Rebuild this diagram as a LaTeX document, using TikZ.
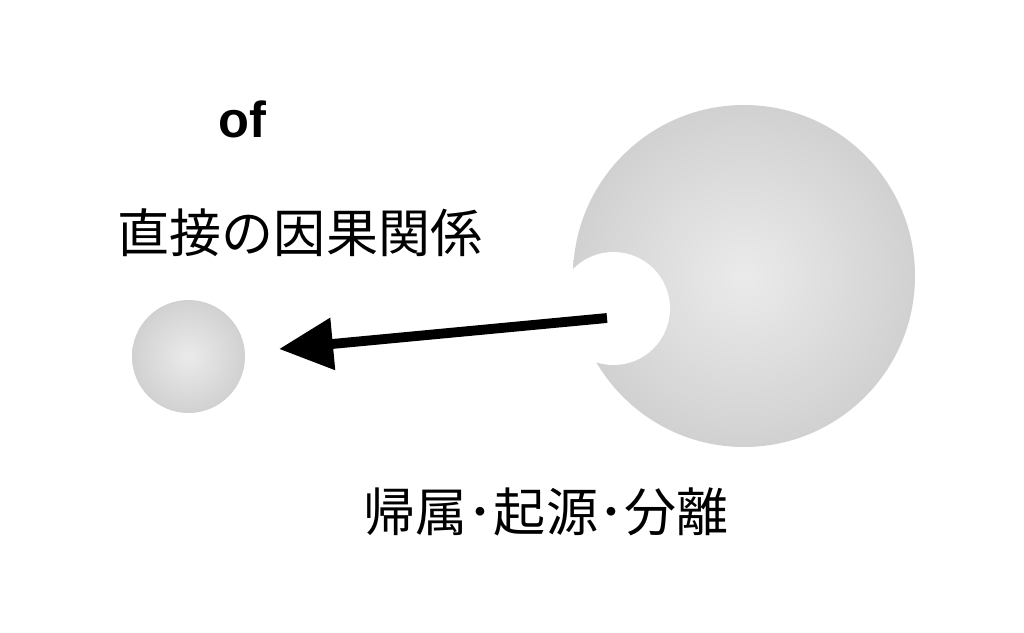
\documentclass[tikz,border=0pt]{standalone}
\usepackage{fontspec}
\setmainfont{Liberation Sans}
\newfontfamily\cjk{Noto Sans CJK JP}
\usetikzlibrary{arrows.meta}
\definecolor{ballin}{gray}{0.92}
\definecolor{ballmid}{gray}{0.84}
\definecolor{ballout}{gray}{0.74}
\pgfdeclareradialshading{softball}{\pgfpoint{0bp}{0bp}}{%
  color(0bp)=(ballin); color(20bp)=(ballmid); color(44bp)=(ballout); color(50bp)=(ballout)}
\tikzset{
  cjklabel/.style={font=\cjk\fontsize{37}{42}\selectfont, inner sep=0pt},
  oflabel/.style={font=\bfseries\fontsize{36}{40}\selectfont, inner sep=0pt},
  bigarrow/.style={line width=7pt, -{Triangle[length=1.35cm, width=1.25cm]}}
}
\begin{document}
\begin{tikzpicture}[x=0.025cm, y=-0.025cm]
\useasboundingbox[fill=white] (0,0) rectangle (1024,632);
% big sphere with cut-out
\shade[shading=softball] (744,276) circle (171);
\fill[white] (613.5,308.5) circle (56.5);
% small sphere
\shade[shading=softball] (188.5,356.5) circle (56.5);
\node[circle, minimum size=113*0.025cm, inner sep=0pt] (small) at (188.5,356.5) {};
\node[circle, minimum size=342*0.025cm, inner sep=0pt] (big) at (744,276) {};
\coordinate (astart) at (607,318);
\coordinate (aend) at (279,349);
\draw[bigarrow] (astart) -- (aend);
% labels
\node[oflabel, anchor=base] (of) at (242,137) {of};
\node[cjklabel] (direct) at (300,233) {直接の因果関係};
\node[cjklabel] (attrib) at (546,512) {帰属･起源･分離};
\end{tikzpicture}
\end{document}
